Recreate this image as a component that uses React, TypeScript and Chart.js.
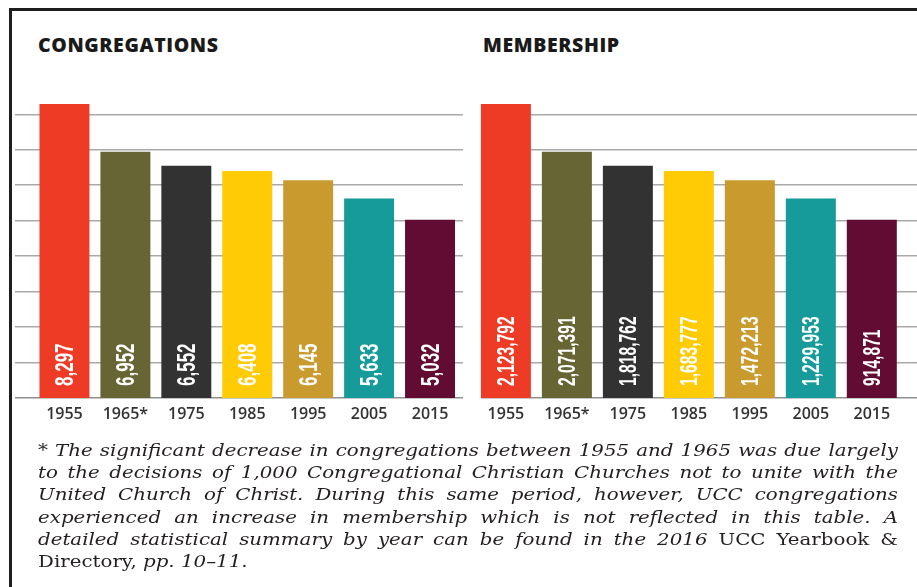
import React, { useEffect, useRef } from "react";
import { Chart, registerables } from "chart.js";

Chart.register(...registerables);

const years = ["1955", "1965*", "1975", "1985", "1995", "2005", "2015"];
const congregations = [8297, 6952, 6552, 6408, 6145, 5633, 5032];
const membership = [2123792, 2071391, 1818762, 1683777, 1472213, 1229953, 914871];
// In the source graphic the membership bars are drawn with the same heights as the congregation bars
const membershipBarHeights = [8297, 6952, 6552, 6408, 6145, 5633, 5032];
const gridValues = [0, 1000, 2000, 3000, 4000, 5000, 6000, 7000, 8000];
const barColors = ["#ED3B25", "#676534", "#333232", "#FFCB05", "#C99A2E", "#169A9A", "#620C33"];

const footnoteLines: { text: string; italic: boolean }[][] = [
  [{ text: "* The significant decrease in congregations between 1955 and 1965 was due largely", italic: true }],
  [{ text: "to the decisions of 1,000 Congregational Christian Churches not to unite with the", italic: true }],
  [{ text: "United Church of Christ. During this same period, however, UCC congregations", italic: true }],
  [{ text: "experienced an increase in membership which is not reflected in this table. A", italic: true }],
  [
    { text: "detailed statistical summary by year can be found in the 2016 ", italic: true },
    { text: "UCC Yearbook &", italic: false },
  ],
  [
    { text: "Directory, ", italic: false },
    { text: "pp. 10\u201311.", italic: true },
  ],
];

const gridPlugin = {
  id: "extGrid",
  beforeDatasetsDraw(chart: any, _args: any, opts: any) {
    const y = chart.scales.y;
    const ctx = chart.ctx;
    ctx.save();
    gridValues.forEach((v) => {
      const py = Math.round(y.getPixelForValue(v)) - 0.25;
      ctx.beginPath();
      ctx.strokeStyle = v === 0 ? "#8f8f8f" : "#a9a9a9";
      ctx.lineWidth = 1.5;
      ctx.moveTo(opts.from, py);
      ctx.lineTo(opts.to, py);
      ctx.stroke();
    });
    ctx.restore();
  },
};

const barLabelPlugin = {
  id: "barLabels",
  afterDatasetsDraw(chart: any, _args: any, opts: any) {
    const ctx = chart.ctx;
    const meta = chart.getDatasetMeta(0);
    const bottom = chart.chartArea.bottom;
    ctx.save();
    ctx.fillStyle = "#ffffff";
    ctx.font = `bold ${opts.size}px "Liberation Sans", Arial, sans-serif`;
    ctx.textBaseline = "alphabetic";
    ctx.textAlign = "left";
    meta.data.forEach((bar: any, i: number) => {
      const text = opts.labels[i].toLocaleString("en-US");
      const capH = opts.size * 0.716;
      ctx.save();
      ctx.translate(bar.x + capH / 2, bottom - 12);
      ctx.rotate(-Math.PI / 2);
      ctx.scale(opts.squeeze, 1);
      ctx.fillText(text, 0, 0);
      ctx.restore();
    });
    ctx.restore();
  },
};

function BarPanel(props: {
  heights: number[];
  labels: number[];
  padLeft: number;
  padRight: number;
  gridFrom: number;
  gridTo: number;
  labelSize: number;
}) {
  const ref = useRef<HTMLCanvasElement | null>(null);
  useEffect(() => {
    if (!ref.current) return;
    const chart = new Chart(ref.current, {
      type: "bar",
      data: {
        labels: years,
        datasets: [
          {
            data: props.heights,
            backgroundColor: barColors,
            borderWidth: 0,
            barPercentage: 0.82,
            categoryPercentage: 1,
          },
        ],
      },
      options: {
        animation: false,
        responsive: false,
        maintainAspectRatio: false,
        events: [],
        layout: {
          padding: { left: props.padLeft, right: props.padRight, top: 104, bottom: 159 },
        },
        plugins: {
          legend: { display: false },
          tooltip: { enabled: false },
          title: { display: false },
          extGrid: { from: props.gridFrom, to: props.gridTo },
          barLabels: { labels: props.labels, size: props.labelSize, squeeze: 0.68 },
        } as any,
        scales: {
          x: {
            grid: { display: false, drawTicks: false },
            border: { display: false },
            ticks: {
              color: "#333333",
              padding: 7,
              font: { family: "'Open Sans', sans-serif", size: 16, weight: "600" },
            },
            afterFit(scale: any) {
              scale.height = 30;
            },
          },
          y: {
            display: false,
            min: 0,
            max: 8297,
          },
        },
      },
      plugins: [gridPlugin, barLabelPlugin],
    });
    return () => chart.destroy();
  }, []);
  return (
    <canvas
      ref={ref}
      width={917}
      height={587}
      style={{ position: "absolute", left: 0, top: 0, width: 917, height: 587, pointerEvents: "none" }}
    />
  );
}

const FOOT_SCALE = 1.165;

export default function App() {
  const titleStyle: React.CSSProperties = {
    position: "absolute",
    top: 35,
    fontFamily: "'Open Sans', sans-serif",
    fontWeight: 800,
    fontSize: 19.5,
    lineHeight: "19.5px",
    color: "#1a1a1a",
    letterSpacing: 0.6,
    margin: 0,
    whiteSpace: "nowrap",
  };
  return (
    <div
      style={{
        position: "absolute",
        left: 0,
        top: 0,
        width: 917,
        height: 587,
        background: "#ffffff",
        overflow: "hidden",
      }}
    >
      <div style={{ position: "absolute", left: 9, top: 8, width: 3, height: 579, background: "#1e1e1e" }} />
      <div style={{ position: "absolute", left: 9, top: 8, width: 908, height: 3, background: "#1e1e1e" }} />
      <div style={{ ...titleStyle, left: 38 }}>CONGREGATIONS</div>
      <div style={{ ...titleStyle, left: 483 }}>MEMBERSHIP</div>
      <BarPanel
        heights={congregations}
        labels={congregations}
        padLeft={34}
        padRight={456.5}
        gridFrom={15}
        gridTo={463}
        labelSize={25}
      />
      <BarPanel
        heights={membershipBarHeights}
        labels={membership}
        padLeft={475.4}
        padRight={14.7}
        gridFrom={481}
        gridTo={917}
        labelSize={23}
      />
      {footnoteLines.map((line, i) => (
        <div
          key={i}
          style={{
            position: "absolute",
            left: 38,
            width: 860 / FOOT_SCALE,
            top: 438.7 + i * 22.3,
            transform: `scaleX(${FOOT_SCALE})`,
            transformOrigin: "0 0",
            fontFamily: "'DejaVu Serif', serif",
            fontSize: 17,
            lineHeight: "22.3px",
            color: "#231f20",
            whiteSpace: "nowrap",
            textAlign: i === footnoteLines.length - 1 ? "left" : "justify",
            textAlignLast: i === footnoteLines.length - 1 ? "left" : "justify",
          }}
        >
          {line.map((seg, j) => (
            <span key={j} style={{ fontStyle: seg.italic ? "italic" : "normal" }}>
              {seg.text}
            </span>
          ))}
        </div>
      ))}
    </div>
  );
}
